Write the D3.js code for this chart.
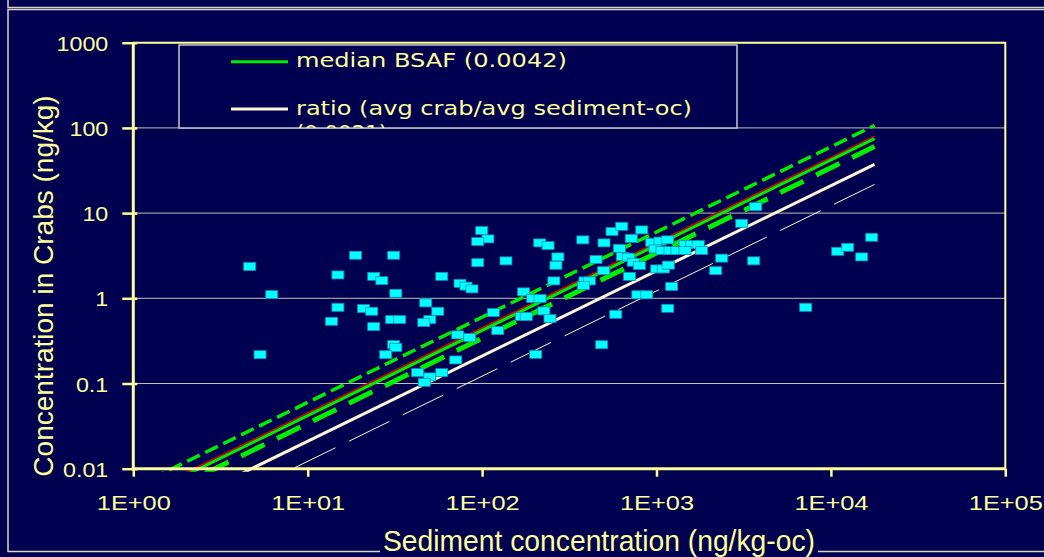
<!DOCTYPE html>
<html>
<head>
<meta charset="utf-8">
<script src="https://cdn.jsdelivr.net/npm/d3@7"></script>
<style>
  html, body { margin: 0; padding: 0; background: #000050; }
  svg { display: block; }
</style>
</head>
<body>
<svg id="chart" width="1044" height="557"></svg>
<script>
// Sediment (organic-carbon normalised) vs crab tissue concentrations
const sedimentOC = [
  4.65, 6.22, 5.33, 18.8, 31.1, 14.9, 23.9, 26.6, 58.7, 32.0,
  14.9, 20.9, 23.3, 13.7, 23.9, 30.3, 33.7, 47.5, 55.7, 50.1,
  46.3, 31.1, 32.0, 28.0, 42.7, 50.1, 58.7, 46.6, 72.5, 84.9,
  70.6, 74.7, 80.8, 87.5, 99.5, 108, 94.4, 94.4, 137, 214,
  239, 272, 265, 378, 500, 556, 632, 823, 717, 613,
  450, 637, 689, 736, 797, 498, 258, 389, 412, 381,
  700, 173, 195, 215, 781, 879, 116, 168, 179, 226,
  245, 584, 123, 203, 485, 939, 1047, 1160, 980, 1075,
  1195, 1311, 1457, 1591, 1737, 1816, 1457, 1003, 1094, 1169,
  1222, 1160, 2365, 2185, 3080, 3705, 3608, 7170, 10940, 12480,
  15020, 17140
];
const crabConc = [
  2.36, 1.105, 0.218, 3.20, 3.20, 1.88, 1.81, 1.61, 1.81, 1.145,
  0.784, 0.757, 0.704, 0.537, 0.465, 0.562, 0.562, 0.883, 0.704, 0.562,
  0.519, 0.286, 0.264, 0.218, 0.134, 0.1195, 0.134, 0.1033, 0.372, 0.346,
  0.189, 1.50, 1.39, 1.29, 6.23, 4.98, 4.63, 2.62, 2.75, 4.47,
  4.15, 3.06, 2.44, 4.85, 4.47, 6.07, 7.00, 6.35, 5.05, 3.86,
  2.85, 3.09, 3.04, 2.65, 2.42, 2.11, 1.60, 1.60, 1.60, 1.41,
  1.81, 1.19, 0.992, 0.992, 1.10, 1.10, 0.679, 0.610, 0.610, 0.711,
  0.578, 0.649, 0.418, 0.220, 0.285, 4.54, 4.69, 4.85, 3.80, 3.63,
  3.63, 3.63, 4.27, 4.27, 4.27, 3.63, 3.63, 2.21, 2.21, 2.45,
  1.38, 0.763, 2.96, 2.11, 7.59, 11.9, 2.75, 0.784, 3.56, 3.97,
  3.06, 5.20
];

// Reference lines: crab = factor * sediment-oc
const lineSpan = [1, 17800];
const lineNames = ["offset", "bsafUpper", "bsafMedian", "bsafLower", "ratioAvg", "ratioLow"];
const lineFactors = [0.0045, 0.0060, 0.0042, 0.0034, 0.0021, 0.00122];

// Axis ticks
const xTickValues = [1, 10, 100, 1000, 10000, 100000];
const xTickLabels = ["1E+00", "1E+01", "1E+02", "1E+03", "1E+04", "1E+05"];
const yTickValues = [0.01, 0.1, 1, 10, 100, 1000];
const yTickLabels = ["0.01", "0.1", "1", "10", "100", "1000"];
const gridValues = [0.1, 1, 10, 100];

// Legend
const legendLabels = ["median BSAF (0.0042)", "ratio (avg crab/avg sediment-oc)"];
const legendOverflow = "(0.0021)";

const bg = "#000050";
const axisYellow = "#ffff99";
const green = "#00ee00";
const cream = "#fff6d8";

const svg = d3.select("#chart");
svg.append("rect").attr("width", 1044).attr("height", 557).attr("fill", bg);

// slide frames
svg.append("rect").attr("x", 8).attr("y", -20).attr("width", 1100).attr("height", 27.5)
  .attr("fill", "none").attr("stroke", "#d8d6c0").attr("stroke-width", 1.5);
svg.append("rect").attr("x", 8).attr("y", 9.5).attr("width", 1100).attr("height", 542)
  .attr("fill", "none").attr("stroke", "#d8d6c0").attr("stroke-width", 1.5);

const plot = { left: 133.3, right: 1005.3, top: 42.7, bottom: 468.7 };
const x = d3.scaleLog().domain([1, 1e5]).range([plot.left, plot.right]);
const y = d3.scaleLog().domain([0.01, 1000]).range([plot.bottom, plot.top]);

// gridlines
svg.append("g").selectAll("line").data(gridValues).join("line")
  .attr("x1", plot.left).attr("x2", plot.right)
  .attr("y1", d => y(d)).attr("y2", d => y(d))
  .attr("stroke", "#c4c2b0").attr("stroke-width", 1);

// top and right plot border
svg.append("path")
  .attr("d", `M${plot.left},${plot.top}H${plot.right}V${plot.bottom}`)
  .attr("fill", "none").attr("stroke", axisYellow).attr("stroke-width", 2);

// clip for the lines
svg.append("clipPath").attr("id", "plotClip").append("rect")
  .attr("x", plot.left).attr("y", plot.top)
  .attr("width", plot.right - plot.left).attr("height", plot.bottom - plot.top + 3);

const lineGen = d3.line().x(d => x(d[0])).y(d => y(d[1]));
const lineStyles = {
  offset:     { stroke: "#e00000", width: 1.6, dash: null },
  bsafUpper:  { stroke: green, width: 3.5, dash: "14,6" },
  bsafMedian: { stroke: green, width: 3, dash: null },
  bsafLower:  { stroke: green, width: 5, dash: "26,14" },
  ratioAvg:   { stroke: cream, width: 3, dash: null },
  ratioLow:   { stroke: cream, width: 1, dash: "45,15" }
};
const lineData = lineNames.map((name, i) => ({
  name, pts: lineSpan.map(s => [s, s * lineFactors[i]])
}));
const lineDrawOrder = ["ratioLow", "ratioAvg", "bsafLower", "offset", "bsafMedian", "bsafUpper"];
svg.append("g").attr("clip-path", "url(#plotClip)")
  .selectAll("path").data(lineDrawOrder.map(n => lineData.find(l => l.name === n))).join("path")
  .attr("d", d => lineGen(d.pts))
  .attr("fill", "none")
  .attr("stroke", d => lineStyles[d.name].stroke)
  .attr("stroke-width", d => lineStyles[d.name].width)
  .attr("stroke-dasharray", d => lineStyles[d.name].dash)
  .attr("stroke-linecap", "butt");

// scatter points
const points = sedimentOC.map((s, i) => [s, crabConc[i]]);
svg.append("g").selectAll("rect").data(points).join("rect")
  .attr("x", d => x(d[0]) - 6).attr("y", d => y(d[1]) - 4)
  .attr("width", 12).attr("height", 8)
  .attr("fill", "#00ffff").attr("stroke", "#0b8fb8").attr("stroke-width", 0.8);

// y axis
const yAxis = svg.append("g").attr("transform", `translate(${plot.left},0)`)
  .call(d3.axisLeft(y).tickValues(yTickValues).tickFormat((d, i) => yTickLabels[i]).tickSize(11).tickPadding(14));
yAxis.select(".domain").attr("stroke", axisYellow).attr("stroke-width", 3)
  .attr("d", `M0,${plot.top}V${plot.bottom + 1.5}`);
yAxis.selectAll(".tick line").attr("stroke", axisYellow).attr("stroke-width", 2.5).attr("x2", -11).attr("x1", 4);
yAxis.selectAll(".tick text")
  .attr("fill", axisYellow).attr("font-family", "Liberation Sans, Arial, sans-serif")
  .attr("font-size", 21).attr("dy", "0.36em")
  .attr("transform", function () { const tx = +d3.select(this).attr("x"); return `translate(${tx},0) scale(1.11,1)`; })
  .attr("x", 0);

// x axis
const xAxis = svg.append("g").attr("transform", `translate(0,${plot.bottom})`)
  .call(d3.axisBottom(x).tickValues(xTickValues).tickFormat((d, i) => xTickLabels[i]).tickSize(8).tickPadding(20));
xAxis.select(".domain").attr("stroke", axisYellow).attr("stroke-width", 3)
  .attr("d", `M${plot.left - 1.5},0H${plot.right}`);
xAxis.selectAll(".tick line").attr("stroke", axisYellow).attr("stroke-width", 2.5);
xAxis.selectAll(".tick text")
  .attr("fill", axisYellow).attr("font-family", "Liberation Sans, Arial, sans-serif")
  .attr("font-size", 21).attr("y", 41.3).attr("dy", 0)
  .attr("textLength", 74).attr("lengthAdjust", "spacingAndGlyphs");

// axis titles
svg.append("text")
  .attr("transform", "translate(53,286) rotate(-90)")
  .attr("text-anchor", "middle")
  .attr("fill", axisYellow).attr("font-family", "Liberation Sans, Arial, sans-serif")
  .attr("font-size", 28)
  .text("Concentration in Crabs (ng/kg)");

svg.append("rect").attr("x", 380).attr("y", 546).attr("width", 438).attr("height", 12).attr("fill", bg);
svg.append("text")
  .attr("x", 599).attr("y", 551)
  .attr("text-anchor", "middle")
  .attr("fill", axisYellow).attr("font-family", "Liberation Sans, Arial, sans-serif")
  .attr("font-size", 29)
  .attr("textLength", 432).attr("lengthAdjust", "spacingAndGlyphs")
  .text("Sediment concentration (ng/kg-oc)");

// legend
const legend = { x: 179, y: 45, w: 558, h: 83 };
svg.append("clipPath").attr("id", "legendClip").append("rect")
  .attr("x", legend.x).attr("y", legend.y).attr("width", legend.w).attr("height", legend.h);
const lg = svg.append("g");
lg.append("rect").attr("x", legend.x).attr("y", legend.y).attr("width", legend.w).attr("height", legend.h)
  .attr("fill", bg).attr("stroke", "#c8c8c8").attr("stroke-width", 1.5);
const legendRows = [
  { label: legendLabels[0], stroke: green, width: 3, ly: 61.7, base: 67.3, len: 271 },
  { label: legendLabels[1], stroke: cream, width: 3, ly: 109, base: 115, len: 396 }
];
const lgItems = lg.append("g").attr("clip-path", "url(#legendClip)");
lgItems.selectAll("line").data(legendRows).join("line")
  .attr("x1", 231).attr("x2", 288).attr("y1", d => d.ly).attr("y2", d => d.ly)
  .attr("stroke", d => d.stroke).attr("stroke-width", d => d.width);
lgItems.selectAll("text.row").data(legendRows).join("text").attr("class", "row")
  .attr("x", 296).attr("y", d => d.base)
  .attr("fill", axisYellow).attr("font-family", "DejaVu Sans, Verdana, sans-serif")
  .attr("font-size", 19.5)
  .attr("textLength", d => d.len).attr("lengthAdjust", "spacingAndGlyphs")
  .text(d => d.label);
lgItems.append("text")
  .attr("x", 296).attr("y", 139)
  .attr("fill", axisYellow).attr("font-family", "DejaVu Sans, Verdana, sans-serif")
  .attr("font-size", 19.5)
  .attr("textLength", 91).attr("lengthAdjust", "spacingAndGlyphs")
  .text(legendOverflow);
</script>
</body>
</html>
